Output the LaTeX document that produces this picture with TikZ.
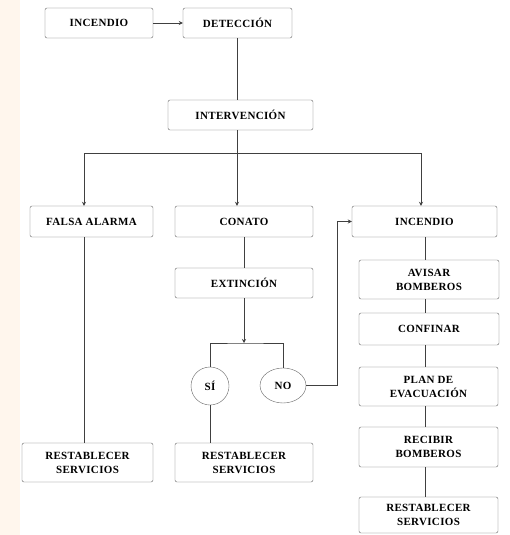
\documentclass[tikz,border=0pt]{standalone}
\usepackage{fontspec}
\setmainfont{Liberation Serif}
\newfontfamily\cajafont{Liberation Serif}[LetterSpace=3]
\usetikzlibrary{arrows.meta,shapes.geometric}

\begin{document}
\begin{tikzpicture}[
		x=1pt,y=-1pt,
		caja/.style={draw=black!60,rounded corners=2pt,align=center,inner sep=0pt,
			font=\cajafont\bfseries\fontsize{11}{14}\selectfont},
		circulo/.style={draw=black!60,ellipse,inner sep=0pt,
			font=\cajafont\bfseries\fontsize{11}{14}\selectfont},
		linea/.style={draw=black!75,line width=0.8pt},
		flecha/.style={linea,-{Stealth[length=4pt,width=4pt]}}
	]
	\useasboundingbox[fill=white] (0,0) rectangle (510,535);
	\fill[orange!7!white] (0,0) rectangle (20,535);

	% primera fila
	\node[caja,minimum width=108pt,minimum height=30pt] (incendio) at (99,23) {INCENDIO};
	\node[caja,minimum width=109pt,minimum height=30pt] (deteccion) at (237.5,23) {DETECCIÓN};
	\node[caja,minimum width=145pt,minimum height=30pt] (interv) at (240.5,115) {INTERVENCIÓN};

	% tres ramas
	\node[caja,minimum width=123pt,minimum height=31pt] (falsa) at (91.5,221.5) {FALSA ALARMA};
	\node[caja,minimum width=138pt,minimum height=31pt] (conato) at (244,221.5) {CONATO};
	\node[caja,minimum width=145pt,minimum height=31pt] (incendio2) at (424.5,221.5) {INCENDIO};

	% rama del conato
	\node[caja,minimum width=138pt,minimum height=30pt] (extincion) at (244,283) {EXTINCIÓN};
	\node[circulo,minimum width=38pt,minimum height=38pt] (si) at (210,386) {SÍ};
	\node[circulo,minimum width=46pt,minimum height=35pt] (no) at (283,385.5) {NO};
	\node[caja,minimum width=138pt,minimum height=39pt] (rest2) at (244,462.5) {RESTABLECER\\SERVICIOS};
	\node[caja,minimum width=131pt,minimum height=39pt] (rest1) at (87.5,462.5) {RESTABLECER\\SERVICIOS};

	% rama del incendio
	\node[caja,minimum width=140pt,minimum height=39pt] (avisar) at (429,279.5) {AVISAR\\BOMBEROS};
	\node[caja,minimum width=140pt,minimum height=32pt] (confinar) at (429,329) {CONFINAR};
	\node[caja,minimum width=139pt,minimum height=39pt] (plan) at (428.5,386.5) {PLAN DE\\EVACUACIÓN};
	\node[caja,minimum width=139pt,minimum height=40pt] (recibir) at (428.5,447) {RECIBIR\\BOMBEROS};
	\node[caja,minimum width=139pt,minimum height=36pt] (rest3) at (428.5,515) {RESTABLECER\\SERVICIOS};

	\coordinate (bl) at (84,153);
	\coordinate (bus) at (237,153);
	\coordinate (br) at (421,153);
	\coordinate (ramal) at (244,343);
	\coordinate (retorno) at (337,221.5);
	\coordinate (eje) at (425,0);

	\draw[flecha] (incendio.east) -- (deteccion.west);
	\draw[linea] (deteccion.south -| bus) -- (interv.north -| bus);
	\draw[linea] (interv.south -| bus) -- (bus);
	\draw[linea] (bl) -- (br);
	\draw[flecha] (bl) -- (bl |- falsa.north);
	\draw[flecha] (bus) -- (bus |- conato.north);
	\draw[flecha] (br) -- (br |- incendio2.north);
	\draw[linea] (falsa.south -| bl) -- (rest1.north -| bl);

	\draw[linea] (conato.south) -- (extincion.north);
	\draw[flecha] (extincion.south) -- (ramal);
	\draw[linea] (si.north) |- (ramal) -| (no.north);
	\draw[linea] (si.south) -- (rest2.north -| si.south);
	\draw[flecha] (no.east) -| (retorno) -- (incendio2.west);

	\foreach \a/\b in {incendio2/avisar,avisar/confinar,confinar/plan,plan/recibir,recibir/rest3}
		\draw[linea] (\a.south -| eje) -- (\b.north -| eje);
\end{tikzpicture}
\end{document}
